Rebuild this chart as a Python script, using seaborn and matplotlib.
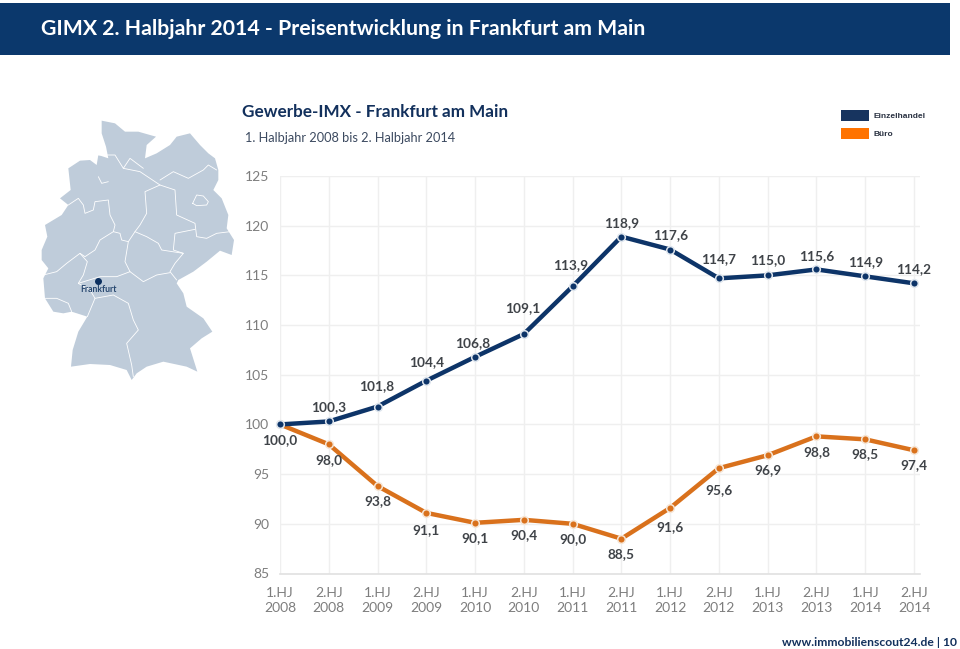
import pandas as pd
import seaborn as sns
import matplotlib.pyplot as plt
from matplotlib.patches import Polygon, Rectangle

# chart values
halbjahre = ['1.HJ', '2.HJ'] * 7
jahre = [y for y in range(2008, 2015) for _ in range(2)]
einzelhandel = [100.0, 100.3, 101.8, 104.4, 106.8, 109.1, 113.9, 118.9, 117.6, 114.7, 115.0, 115.6, 114.9, 114.2]
buero = [100.0, 98.0, 93.8, 91.1, 90.1, 90.4, 90.0, 88.5, 91.6, 95.6, 96.9, 98.8, 98.5, 97.4]

# label offsets in pixels
offs_einzel = [14, 14, 20, 19, 14, 26, 21, 14, 14, 19, 15, 13, 14, 14]
dx_einzel = [0, 0, -1, 0, -2, -1, -2, 0, 0, 0, 0, 0, 0, 0]
offs_buero = [-16, -16, -15, -17, -15, -15, -15, -15, -19, -22, -15, -16, -15, -15]

# map drawing, traced at 3x scale
map_outline = [(305, 92), (345, 100), (375, 125), (415, 125), (450, 135), (468, 140), (440, 165), (435, 205), (470, 190),
               (510, 165), (530, 140), (570, 130), (600, 165), (625, 190), (645, 205), (655, 240), (655, 270), (640, 300),
               (665, 325), (685, 375), (680, 415), (702, 450), (695, 495), (660, 482), (620, 515), (580, 545), (535, 570),
               (530, 580), (550, 610), (560, 650), (610, 685), (637, 725), (605, 745), (570, 775), (592, 845), (560, 830),
               (490, 815), (440, 830), (410, 850), (395, 870), (380, 840), (330, 825), (270, 822), (213, 830), (218, 780),
               (235, 725), (262, 680), (215, 665), (190, 670), (160, 665), (135, 625), (130, 565), (145, 535), (125, 510),
               (125, 480), (142, 440), (135, 405), (185, 375), (205, 345), (180, 325), (212, 300), (205, 235), (240, 212),
               (270, 210), (290, 225), (295, 195), (325, 205), (318, 170), (305, 130)]
map_borders = [
    [(130, 555), (170, 545), (200, 520), (240, 490), (262, 515), (250, 555), (235, 580), (270, 600), (285, 625), (262, 680)],
    [(205, 345), (235, 325), (250, 345), (255, 370), (280, 360), (285, 335), (325, 330), (330, 375), (345, 405), (340, 425),
     (300, 450), (285, 480), (255, 500), (240, 490)],
    [(340, 425), (360, 430), (365, 450), (385, 455), (405, 425), (420, 405), (440, 370), (435, 305), (480, 285), (525, 300),
     (530, 375), (585, 400), (590, 440), (620, 445), (650, 430), (690, 425)],
    [(385, 455), (375, 515), (390, 545), (350, 560), (300, 560), (235, 580)],
    [(285, 625), (340, 615), (385, 640), (400, 690), (415, 720), (380, 760), (395, 825), (400, 860)],
    [(135, 625), (170, 625), (205, 640), (215, 665)],
    [(405, 425), (440, 440), (475, 460), (485, 480), (550, 490), (525, 520), (510, 545), (530, 570)],
    [(585, 418), (525, 430), (520, 480), (550, 490)],
    [(390, 545), (430, 575), (470, 555), (510, 548)],
    [(480, 270), (520, 245), (565, 265), (610, 240), (625, 225), (650, 240)],
    [(370, 235), (420, 245), (480, 285)],
    [(578, 340), (590, 315), (610, 318), (625, 335), (620, 345), (590, 347), (578, 340)],
    [(295, 260), (305, 280), (325, 275)],
    [(295, 195), (345, 195), (370, 235), (390, 205), (430, 235)],
]


def map_px(pts):
    return [(x / 3, 90 + y / 3) for x, y in pts]


sns.set_theme(style='white')
plt.rcParams['font.family'] = ['Lato', 'DejaVu Sans']

fig = plt.figure(figsize=(9.6, 6.49), dpi=100)
W, H = 960, 649

# background layer in picture pixels
bg = fig.add_axes([0, 0, 1, 1])
bg.set_xlim(0, W)
bg.set_ylim(H, 0)
bg.axis('off')
bg.add_patch(Rectangle((0, 3), 950, 52, color='#0b386c', lw=0))
bg.text(41, 29, 'GIMX 2. Halbjahr 2014 - Preisentwicklung in Frankfurt am Main', color='white',
        fontsize=15.35, fontweight='bold', va='center')
bg.text(242, 112, 'Gewerbe-IMX - Frankfurt am Main', color='#12305c', fontsize=12.35, fontweight='bold', va='center')
bg.text(245, 138, '1. Halbjahr 2008 bis 2. Halbjahr 2014', color='#3c4a60', fontsize=9.2, va='center')

bg.add_patch(Polygon(map_px(map_outline), closed=True, color='#bfccda', lw=0))
for line in map_borders:
    bg.plot(*zip(*map_px(line)), color='white', lw=0.6)
bg.plot(97.5, 281, 'o', color='#0b2f5f', ms=4)
bg.text(98, 290, 'Frankfurt', color='#27476f', fontsize=6.2, fontweight='bold', ha='center', va='center')

bg.add_patch(Rectangle((841, 110), 28, 11, color='#17345f', lw=0))
bg.add_patch(Rectangle((841, 128), 28, 11, color='#ff7300', lw=0))
bg.text(874, 117, 'Einzelhandel', family='Liberation Sans', color='#2a3242', fontsize=6, fontweight='bold', va='center')
bg.text(874, 134, 'Büro', family='Liberation Sans', color='#2a3242', fontsize=6, fontweight='bold', va='center')
bg.text(957, 643, 'www.immobilienscout24.de | 10', color='#12305c', fontsize=8.7, fontweight='bold', ha='right', va='center')

# chart axes: x 0..13 = 280..914 px, y 85..125 = 573.5..176 px
ax = fig.add_axes([280 / W, 1 - 573.5 / H, 640 / W, (573.5 - 176) / H])
ax.patch.set_alpha(0)

df = pd.DataFrame({
    'pos': list(range(14)) * 2,
    'wert': einzelhandel + buero,
    'serie': ['Einzelhandel'] * 14 + ['Büro'] * 14,
})
farben = {'Einzelhandel': '#0d3468', 'Büro': '#d9711c'}
sns.lineplot(data=df[df.serie == 'Büro'], x='pos', y='wert', color=farben['Büro'], lw=3.2, marker='o', ms=5.5,
             mfc='#d9711c', mec='#f6e6d6', mew=1.1, legend=False, ax=ax, clip_on=False, zorder=3)
sns.lineplot(data=df[df.serie == 'Einzelhandel'], x='pos', y='wert', color=farben['Einzelhandel'], lw=3.2, marker='o', ms=5.5,
             mfc='#0d3468', mec='#dfe6ee', mew=1.1, legend=False, ax=ax, clip_on=False, zorder=4)

ax.set_xlim(0, 13 * 640 / 634)
ax.set_ylim(85, 125)
ax.set_xticks(range(14))
ax.set_xticklabels([f'{h}\n{j}' for h, j in zip(halbjahre, jahre)], color='#7d7d7d', fontsize=10, linespacing=1.3)
ax.set_yticks(range(85, 126, 5))
ax.set_yticklabels(range(85, 126, 5), color='#7d7d7d', fontsize=10)
ax.tick_params(axis='y', length=0, pad=7.6)
ax.tick_params(axis='x', length=0, pad=9.5)
ax.grid(True, color='#efefef', lw=1)
ax.set_axisbelow(True)
ax.set_xlabel('')
ax.set_ylabel('')
for s in ax.spines.values():
    s.set_visible(False)
ax.spines['bottom'].set_visible(True)
ax.spines['bottom'].set_color('#e2e2e2')

# value labels
fmt = lambda v: f'{v:.1f}'.replace('.', ',')
for i, (v, o, d) in enumerate(zip(einzelhandel, offs_einzel, dx_einzel)):
    if i == 0:
        continue
    ax.annotate(fmt(v), (i, v), xytext=(d * 0.72, o * 0.72), textcoords='offset points', ha='center', va='center',
                color='#3f4348', fontsize=9.8, fontweight='bold', zorder=5)
for i, (v, o) in enumerate(zip(buero, offs_buero)):
    ax.annotate(fmt(v), (i, v), xytext=(0, o * 0.72), textcoords='offset points', ha='center', va='center',
                color='#3f4348', fontsize=9.8, fontweight='bold', zorder=5)

fig.savefig('out.png', dpi=100)
